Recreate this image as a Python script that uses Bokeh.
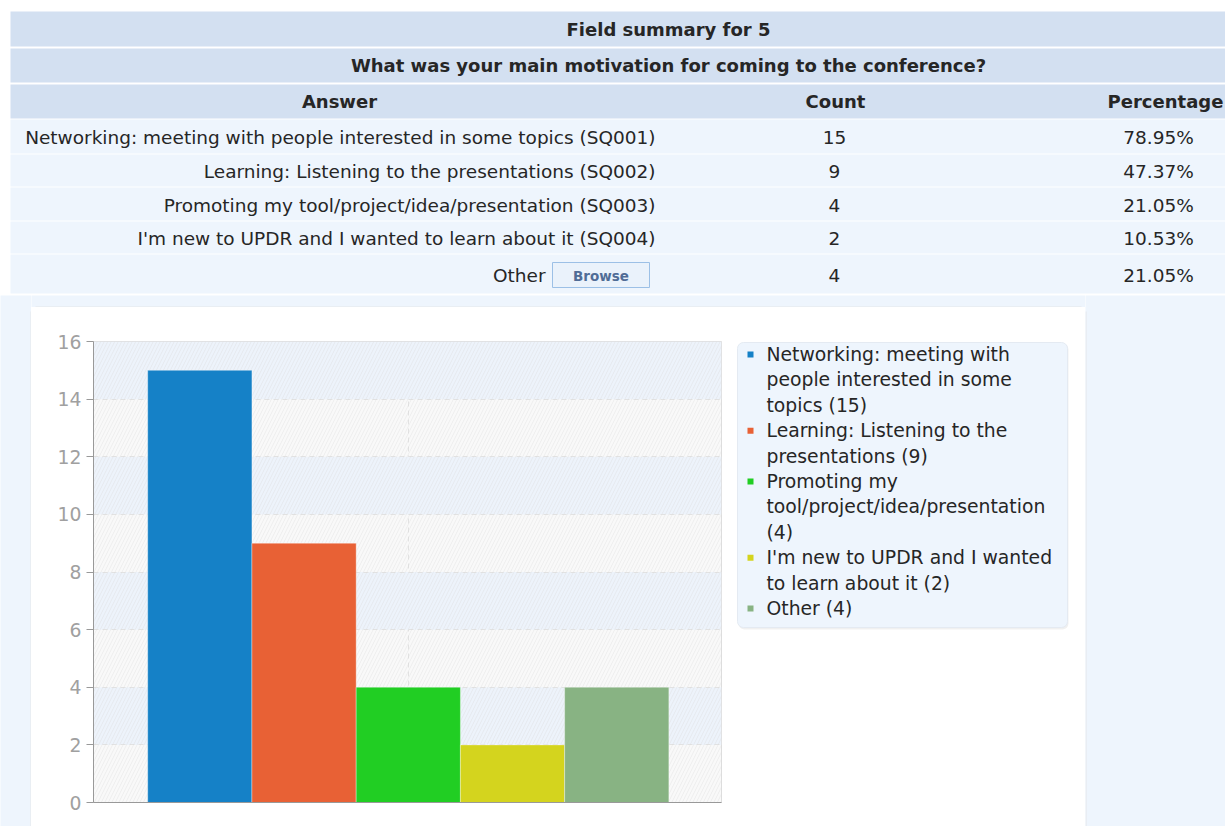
import textwrap
from bokeh.plotting import figure
from bokeh.models import Range1d, FixedTicker, BoxAnnotation
from bokeh.layouts import column, row
from bokeh.core.properties import value
from bokeh.embed import file_html
from bokeh.resources import INLINE

# ---------------- data ----------------
field_title = "Field summary for 5"
question = "What was your main motivation for coming to the conference?"
headers = ["Answer", "Count", "Percentage"]
answers = [
    "Networking: meeting with people interested in some topics",
    "Learning: Listening to the presentations",
    "Promoting my tool/project/idea/presentation",
    "I'm new to UPDR and I wanted to learn about it",
    "Other",
]
codes = ["SQ001", "SQ002", "SQ003", "SQ004", ""]
counts = [15, 9, 4, 2, 4]
percentages = ["78.95%", "47.37%", "21.05%", "10.53%", "21.05%"]
colors = ["#1581C7", "#E86135", "#21CE23", "#D4D41E", "#88B383"]
y_ticks = [0, 2, 4, 6, 8, 10, 12, 14, 16]
browse_label = "Browse"

FONT = value("DejaVu Sans")
TXT = "#262626"
HEAD_BG = "#D3E0F1"
ROW_BG = "#EEF5FD"
PAGE_BG = "#EEF5FD"
PANEL_EDGE = "#E4E6E9"
NORMAL_SIZE = "18.5px"
BOLD_SIZE = "18px"

PAGE_W = 1225
PAGE_H = 826
TABLE_H = 295

# ---------------- table (page pixel coordinates) ----------------
tbl = figure(width=PAGE_W, height=TABLE_H, x_range=Range1d(0, PAGE_W), y_range=Range1d(TABLE_H, 0),
             output_backend="svg", toolbar_location=None, min_border=0,
             outline_line_color=None, background_fill_color="white", border_fill_color="white",
             x_axis_location=None, y_axis_location=None)
tbl.grid.visible = False

head_top = [11, 48, 84]
head_bot = [46, 82, 118]
data_top = [119, 154, 187, 221, 254]
data_bot = [153, 186, 220, 253, 293]

tbl.quad(left=[10] * 3, right=[PAGE_W] * 3, top=head_top, bottom=head_bot,
         fill_color=HEAD_BG, line_color=None)
tbl.quad(left=[10] * 5, right=[PAGE_W] * 5, top=data_top, bottom=data_bot,
         fill_color=ROW_BG, line_color=None)

hc = [(t + b) / 2 for t, b in zip(head_top, head_bot)]
tbl.text(x=[668, 668], y=hc[:2], text=[field_title, question], text_font=FONT,
         text_font_size=BOLD_SIZE, text_font_style="bold", text_align="center",
         text_baseline="middle", text_color=TXT)
tbl.text(x=[339, 835, 1165], y=[hc[2]] * 3, text=headers, text_font=FONT,
         text_font_size=BOLD_SIZE, text_font_style="bold", text_align="center",
         text_baseline="middle", text_color=TXT)

dc = [(t + b) / 2 + 1 for t, b in zip(data_top, data_bot)]
ans_labels = [f"{a} ({c})" if c else a for a, c in zip(answers, codes)]
ans_x = [655, 655, 655, 655, 545]
tbl.text(x=ans_x, y=dc, text=ans_labels, text_font=FONT, text_font_size=NORMAL_SIZE,
         text_align="right", text_baseline="middle", text_color=TXT)
tbl.text(x=[834] * 5, y=dc, text=[str(c) for c in counts], text_font=FONT,
         text_font_size=NORMAL_SIZE, text_align="center", text_baseline="middle", text_color=TXT)
tbl.text(x=[1158] * 5, y=dc, text=percentages, text_font=FONT, text_font_size=NORMAL_SIZE,
         text_align="center", text_baseline="middle", text_color=TXT)

# Browse button
tbl.quad(left=[552], right=[649], top=[262], bottom=[287], fill_color="#EAF2FB",
         line_color="#9CC0E6", line_width=1)
tbl.text(x=[600.5], y=[275], text=[browse_label], text_font=FONT, text_font_size="13.5px",
         text_font_style="bold", text_align="center", text_baseline="middle",
         text_color="#506C96")

# ---------------- bar chart ----------------
SEC_TOP = 307          # top of the white panel
FRAME_TOP = 341
FRAME_BOT = 802
chart = figure(width=691, height=PAGE_H - SEC_TOP, x_range=Range1d(-0.02, 6.005),
               y_range=Range1d(0, 16),
               output_backend="svg", toolbar_location=None,
               min_border_left=62, min_border_right=1,
               min_border_top=FRAME_TOP - SEC_TOP, min_border_bottom=PAGE_H - FRAME_BOT,
               background_fill_color="#F9F9F9", border_fill_color="white",
               outline_line_color="#DDDDDD")

hatch = BoxAnnotation(fill_alpha=0, line_color=None, hatch_pattern="/", hatch_color="#D8D8D8",
                      hatch_alpha=0.35, hatch_scale=7, hatch_weight=1, level="underlay")
chart.add_layout(hatch)

xs = list(range(1, len(counts) + 1))
chart.vbar(x=xs, top=counts, width=1, fill_color=colors, line_color="white",
           line_alpha=0.35, line_width=1)

chart.yaxis.ticker = FixedTicker(ticks=y_ticks)
chart.yaxis.axis_line_color = "#999999"
chart.yaxis.major_tick_line_color = "#999999"
chart.yaxis.major_tick_out = 7
chart.yaxis.major_tick_in = 0
chart.yaxis.minor_tick_line_color = None
chart.yaxis.major_label_standoff = 5
chart.yaxis.major_label_text_font = "DejaVu Sans"
chart.yaxis.major_label_text_font_size = "18.8px"
chart.yaxis.major_label_text_color = "#A0A0A0"

chart.xaxis.ticker = FixedTicker(ticks=[3])
chart.xaxis.major_label_overrides = {3: ""}
chart.xaxis.major_label_text_font_size = "1px"
chart.xaxis.major_label_standoff = 0
chart.xaxis.major_tick_line_color = None
chart.xaxis.minor_tick_line_color = None
chart.xaxis.axis_line_color = "#999999"

chart.ygrid.ticker = FixedTicker(ticks=y_ticks)
chart.ygrid.grid_line_color = "#E2E2E2"
chart.ygrid.grid_line_dash = "5 4"
chart.ygrid.band_fill_color = "#EDF3FB"
chart.ygrid.band_fill_alpha = 1
chart.xgrid.grid_line_color = "#E2E2E2"
chart.xgrid.grid_line_dash = "5 4"

# ---------------- legend (page pixel coordinates, frame aligned with chart frame) ----------------
lg = figure(width=363, height=PAGE_H - SEC_TOP, x_range=Range1d(722, 1085),
            y_range=Range1d(FRAME_BOT, FRAME_TOP),
            output_backend="svg", toolbar_location=None, min_border=0,
            min_border_top=FRAME_TOP - SEC_TOP, min_border_bottom=PAGE_H - FRAME_BOT,
            outline_line_color=None, background_fill_color="white", border_fill_color="white",
            x_axis_location=None, y_axis_location=None)
lg.grid.visible = False
lg.quad(left=[738], right=[1068], top=[343], bottom=[629], fill_color="black",
        fill_alpha=0.06, line_color=None, border_radius=6)
lg.quad(left=[737], right=[1067], top=[342], bottom=[627], fill_color="#EEF5FD",
        line_color="#E4EAF2", border_radius=6)

wrapped = [textwrap.wrap(f"{a} ({c})", width=28, break_long_words=False)
           for a, c in zip(answers, counts)]
line_txt, line_y, mk_y = [], [], []
k = 0
for lines in wrapped:
    mk_y.append(354 + k * 25.4)
    for t in lines:
        line_txt.append(t)
        line_y.append(354 + k * 25.4)
        k += 1
lg.scatter(x=[750] * len(mk_y), y=mk_y, marker="square", size=6, fill_color=colors,
           line_color=None)
lg.text(x=[766] * len(line_txt), y=line_y, text=line_txt, text_font=FONT,
        text_font_size="18.8px", text_align="left", text_baseline="middle", text_color=TXT)


def spacer(w, h, color, edge=None):
    s = figure(width=w, height=h, x_range=Range1d(0, w), y_range=Range1d(h, 0),
               output_backend="svg", toolbar_location=None, min_border=0,
               outline_line_color=None, background_fill_color=color, border_fill_color=color,
               x_axis_location=None, y_axis_location=None)
    s.grid.visible = False
    if edge == "right":
        s.segment(x0=[w - 0.5], y0=[SEC_TOP - TABLE_H + 4], x1=[w - 0.5], y1=[h],
                  line_color=PANEL_EDGE, line_width=1)
    elif edge == "left":
        s.segment(x0=[0.5], y0=[SEC_TOP - TABLE_H + 4], x1=[0.5], y1=[h],
                  line_color=PANEL_EDGE, line_width=1)
    elif edge == "bottom":
        s.segment(x0=[4], y0=[h - 0.5], x1=[w - 4], y1=[h - 0.5],
                  line_color=PANEL_EDGE, line_width=1)
    return s


SEC_H = PAGE_H - TABLE_H
layout = column(
    tbl,
    row(spacer(31, SEC_H, PAGE_BG, "right"),
        column(spacer(1054, SEC_TOP - TABLE_H, PAGE_BG, "bottom"), row(chart, lg)),
        spacer(PAGE_W - 1085, SEC_H, PAGE_BG, "left")),
)

open("out.html", "w").write(file_html(layout, INLINE))
